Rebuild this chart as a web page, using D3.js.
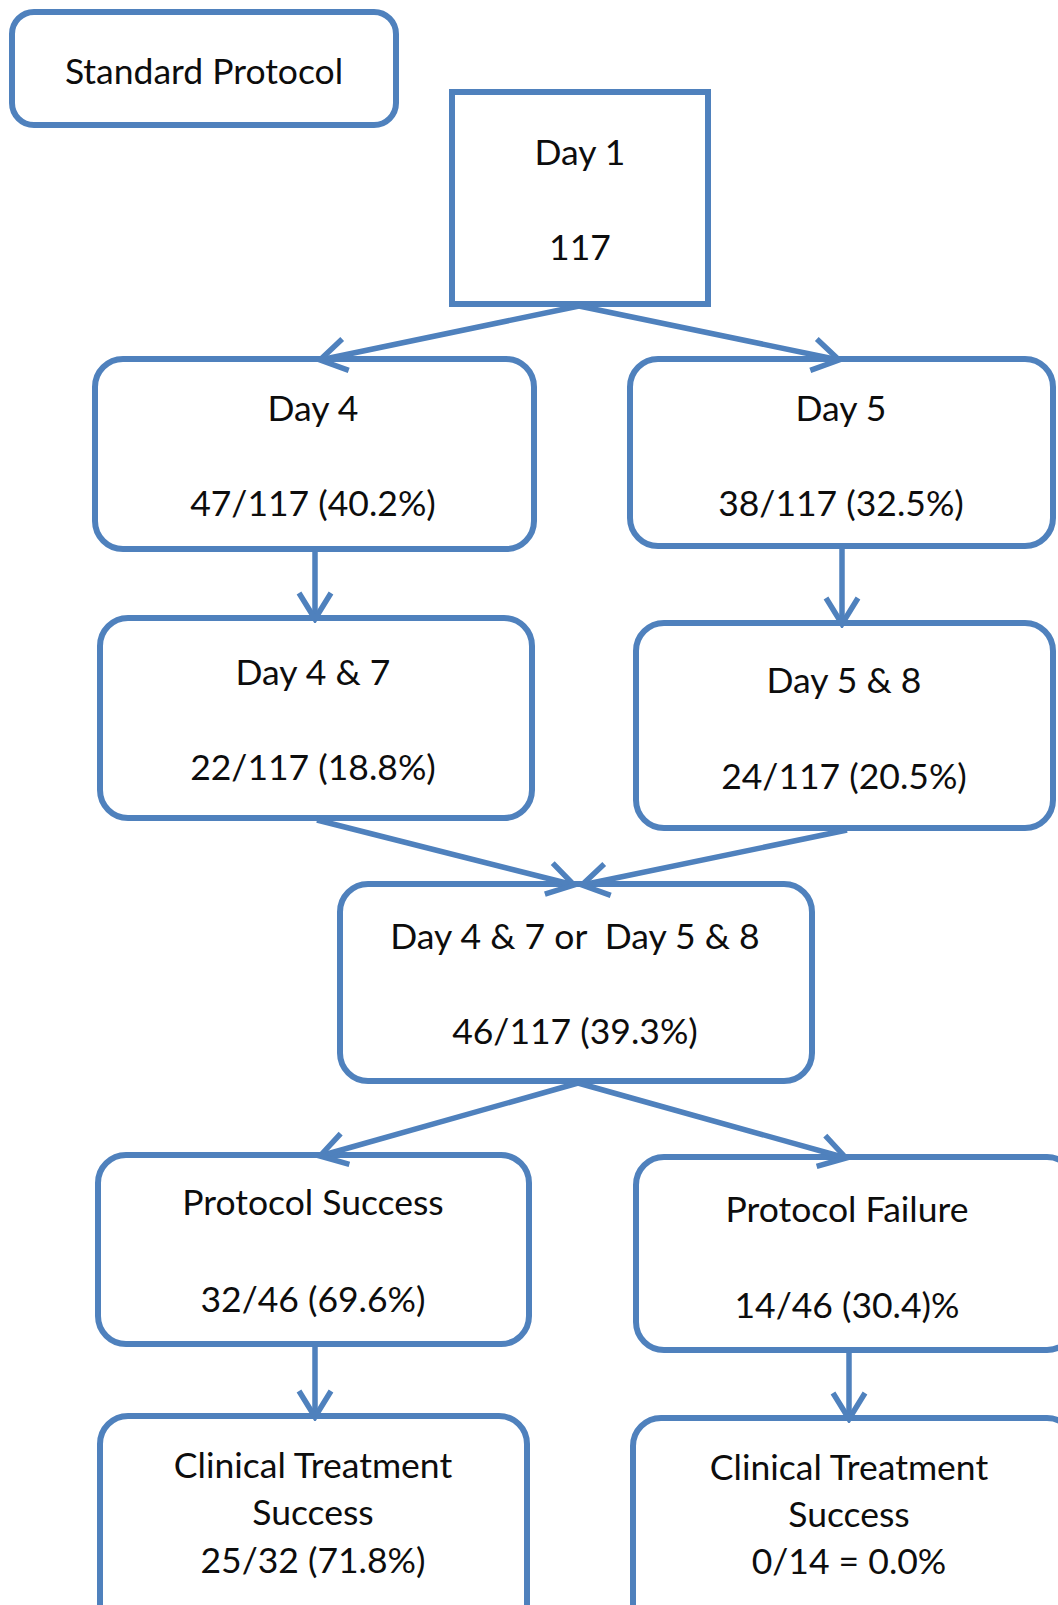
<!DOCTYPE html>
<html>
<head>
<meta charset="utf-8">
<script src="https://cdn.jsdelivr.net/npm/d3@7"></script>
<style>
  body { margin: 0; background: #fff; }
  svg text { font-family: Lato, 'Open Sans', sans-serif; fill: #0d0d0d; white-space: pre; }
</style>
</head>
<body>
<svg id="chart"></svg>
<script>
// flowchart content
const nodeIds = ['std', 'd1', 'd4', 'd5', 'd47', 'd58', 'either', 'succ', 'fail', 'ctsL', 'ctsR'];
const headings = ['Standard Protocol', 'Day 1', 'Day 4', 'Day 5', 'Day 4 & 7', 'Day 5 & 8',
  'Day 4 & 7 or  Day 5 & 8', 'Protocol Success', 'Protocol Failure', 'Clinical Treatment', 'Clinical Treatment'];
const subHeadings = ['', '', '', '', '', '', '', '', '', 'Success', 'Success'];
const counts = ['', '117', '47/117 (40.2%)', '38/117 (32.5%)', '22/117 (18.8%)', '24/117 (20.5%)',
  '46/117 (39.3%)', '32/46 (69.6%)', '14/46 (30.4)%', '25/32 (71.8%)', '0/14 = 0.0%'];
const links = [['d1', 'd4'], ['d1', 'd5'], ['d4', 'd47'], ['d5', 'd58'], ['d47', 'either'], ['d58', 'either'],
  ['either', 'succ'], ['either', 'fail'], ['succ', 'ctsL'], ['fail', 'ctsR']];

// layout (page coordinates) kept apart from the content
const W = 1058, H = 1605;
const boxes = {
  std:    { x0: 12,  y0: 12,   x1: 396,  y1: 125,  r: 22, cx: 204, ty: [70] },
  d1:     { x0: 452, y0: 92,   x1: 708,  y1: 304,  r: 0,  cx: 580, ty: [151, 246] },
  d4:     { x0: 95,  y0: 359,  x1: 534,  y1: 549,  r: 28, cx: 313, ty: [407, 502] },
  d5:     { x0: 630, y0: 359,  x1: 1053, y1: 546,  r: 28, cx: 841, ty: [407, 502] },
  d47:    { x0: 100, y0: 618,  x1: 532,  y1: 818,  r: 28, cx: 313, ty: [671, 766] },
  d58:    { x0: 636, y0: 623,  x1: 1053, y1: 828,  r: 28, cx: 844, ty: [679, 775] },
  either: { x0: 340, y0: 884,  x1: 812,  y1: 1081, r: 28, cx: 575, ty: [935, 1030] },
  succ:   { x0: 98,  y0: 1155, x1: 529,  y1: 1344, r: 28, cx: 313, ty: [1201, 1298] },
  fail:   { x0: 636, y0: 1157, x1: 1075, y1: 1350, r: 28, cx: 847, ty: [1208, 1304] },
  ctsL:   { x0: 100, y0: 1416, x1: 527,  y1: 1640, r: 28, cx: 313, ty: [1464, 1511, 1559] },
  ctsR:   { x0: 633, y0: 1418, x1: 1075, y1: 1640, r: 28, cx: 849, ty: [1466, 1513, 1560] }
};
const linkEnds = [
  { sx: 579, tx: 320 }, { sx: 579, tx: 839 }, { sx: 315, tx: 315 }, { sx: 842, tx: 842 },
  { sx: 317, tx: 574 }, { sx: 847, tx: 582 }, { sx: 578, tx: 320 }, { sx: 578, tx: 846 },
  { sx: 315, tx: 315 }, { sx: 849, tx: 849 }
];
const blue = '#4F81BD';

const svg = d3.select('#chart')
  .attr('width', W)
  .attr('height', H)
  .attr('viewBox', `0 0 ${W} ${H}`);

svg.append('defs').append('marker')
  .attr('id', 'chev')
  .attr('markerUnits', 'userSpaceOnUse')
  .attr('viewBox', '-32 -22 36 44')
  .attr('refX', 0).attr('refY', 0)
  .attr('markerWidth', 36).attr('markerHeight', 44)
  .attr('orient', 'auto')
  .append('path')
  .attr('d', 'M-26,-16L0,0L-26,16')
  .attr('fill', 'none')
  .attr('stroke', blue)
  .attr('stroke-width', 5.5)
  .attr('stroke-linejoin', 'miter');

const nodes = nodeIds.map((id, i) => ({
  id,
  lines: [headings[i], subHeadings[i], counts[i]].filter(s => s !== ''),
  ...boxes[id]
}));
const byId = new Map(nodes.map(n => [n.id, n]));

// boxes
const g = svg.append('g').selectAll('g')
  .data(nodes)
  .enter().append('g');

g.append('rect')
  .attr('x', d => d.x0)
  .attr('y', d => d.y0)
  .attr('width', d => d.x1 - d.x0)
  .attr('height', d => d.y1 - d.y0)
  .attr('rx', d => d.r)
  .attr('fill', '#fff')
  .attr('stroke', blue)
  .attr('stroke-width', 6);

g.each(function (d) {
  d3.select(this).selectAll('text')
    .data(d.lines)
    .enter().append('text')
    .attr('x', d.cx)
    .attr('y', (t, j) => d.ty[j])
    .attr('text-anchor', 'middle')
    .attr('dominant-baseline', 'central')
    .attr('font-size', 35.5)
    .text(t => t);
});

// arrows
const line = d3.line();
svg.append('g').selectAll('path')
  .data(links)
  .enter().append('path')
  .attr('d', (d, i) => {
    const s = byId.get(d[0]), t = byId.get(d[1]);
    return line([[linkEnds[i].sx, s.y1 + 2], [linkEnds[i].tx, t.y0 + 1]]);
  })
  .attr('fill', 'none')
  .attr('stroke', blue)
  .attr('stroke-width', 5.5)
  .attr('marker-end', 'url(#chev)');
</script>
</body>
</html>
